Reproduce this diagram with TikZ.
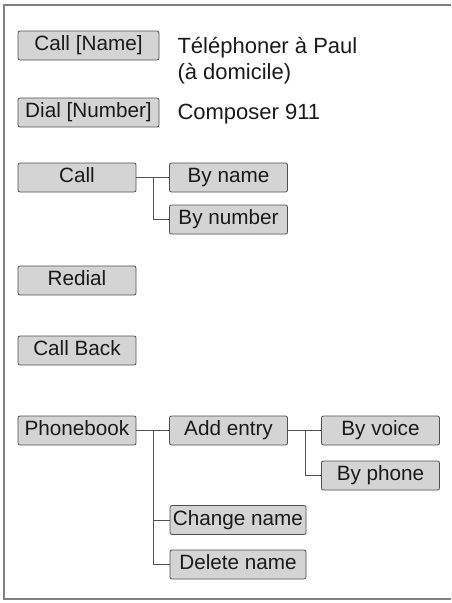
\documentclass[tikz,border=0pt]{standalone}
\usepackage{fontspec}
\setmainfont{Liberation Sans}
\definecolor{keyfill}{HTML}{D4D4D4}
\definecolor{keyline}{HTML}{505050}
\definecolor{txt}{HTML}{1A1A1A}
\tikzset{
  key/.style={draw=keyline, fill=keyfill, rounded corners=2pt, line width=0.8pt,
    minimum height=29pt, inner sep=0pt, text height=15.5pt, text depth=5.2pt,
    text=txt, font=\fontsize{20.7}{25}\selectfont},
  note/.style={anchor=base west, align=left, text=txt, font=\fontsize{22}{26}\selectfont},
  wire/.style={draw=keyline, line width=0.9pt}
}

\begin{document}
\begin{tikzpicture}[x=1pt, y=-1pt]
  \useasboundingbox (0,0) rectangle (451,603);
  % frame, open on the right:
  \draw [gray, line width=2.2pt] (451,5) -- (4,5) -- (4,599) -- (451,599);
  % keys with a text beside them:
  \node [key, minimum width=141pt] (callname) at (88.5,45.5) {Call [Name]};
  \node [key, minimum width=141pt] (dialnum) at (88.5,112.5) {Dial [Number]};
  \node [note] (callnametxt) at (174,79) {Téléphoner à Paul\\(à domicile)};
  \node [note] (dialnumtxt) at (174,119) {Composer 911};
  % menu keys:
  \foreach \name/\x/\y/\txt in {call/77/177.5/Call, byname/228.5/177.5/By name,
      bynumber/228.5/219.5/By number, redial/77/280.5/Redial,
      callback/77/350.5/Call Back, phonebook/77/430.5/Phonebook,
      addentry/228.5/430.5/Add entry, byvoice/380.5/430.5/By voice,
      byphone/380.5/475.5/By phone}
    \node [key, minimum width=118pt] (\name) at (\x,\y) {\txt};
  \node [key, minimum width=136pt] (changename) at (238,520) {Change name};
  \node [key, minimum width=136pt] (deletename) at (238,564.5) {Delete name};
  % branches:
  \coordinate (j1) at (153,177.5);
  \coordinate (j2) at (153,430.5);
  \coordinate (j3) at (305,430.5);
  \draw [wire] (call) -- (byname);
  \draw [wire] (j1) |- (bynumber);
  \draw [wire] (phonebook) -- (addentry);
  \draw [wire] (addentry) -- (byvoice);
  \draw [wire] (j3) |- (byphone);
  \draw [wire] (j2) |- (changename);
  \draw [wire] (j2) |- (deletename);
\end{tikzpicture}
\end{document}
